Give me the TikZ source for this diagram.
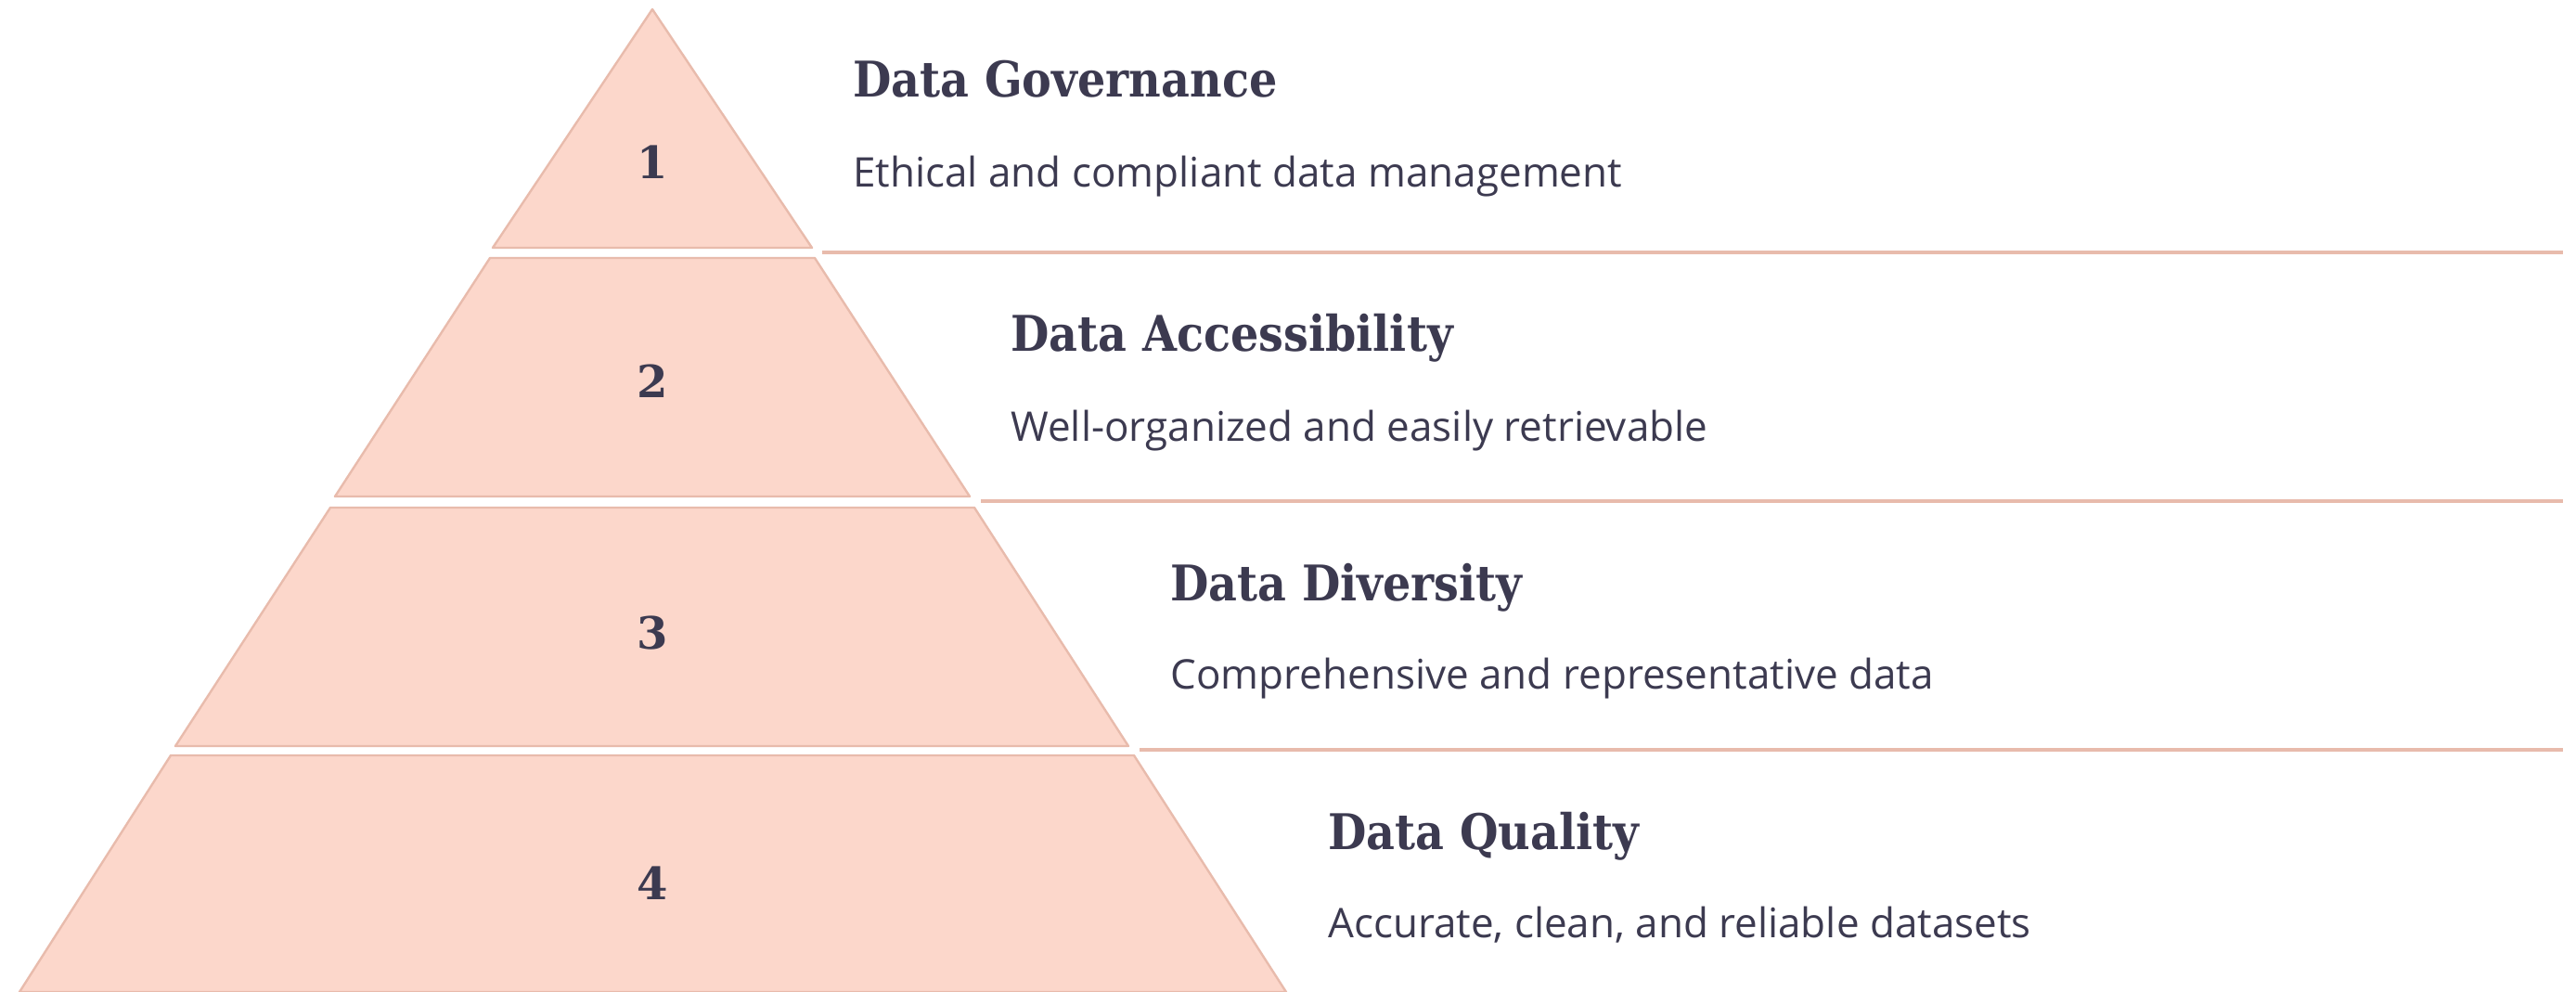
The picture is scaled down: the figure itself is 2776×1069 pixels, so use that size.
\documentclass[tikz,border=0pt]{standalone}
\usepackage{fontspec}
\setmainfont{DejaVu Serif}
\newfontfamily\titlefont{DejaVu Serif Condensed}
\newfontfamily\numfont{DejaVu Serif}
\newfontfamily\descfont{Open Sans}
\definecolor{tierfill}{HTML}{FCD7CB}
\definecolor{tierline}{HTML}{E8BBAC}
\definecolor{ink}{HTML}{3C3A50}
\tikzset{
  tier/.style={fill=tierfill, draw=tierline, line width=1.2pt, line join=round},
  sepline/.style={draw=tierline, line width=1.6pt},
  num/.style={font=\numfont\bfseries\fontsize{24}{28}\selectfont, text=ink, inner sep=0pt},
  title/.style={font=\titlefont\bfseries\fontsize{26.5}{30}\selectfont, text=ink, anchor=base west, inner sep=0pt},
  desc/.style={font=\descfont\fontsize{22}{26}\selectfont, text=ink, anchor=base west, inner sep=0pt},
}
\begin{document}
\begin{tikzpicture}[x=0.5pt,y=-0.5pt]
\useasboundingbox (0,0) rectangle (2776,1069);
% tiers
\draw[tier] (703,10) -- (875,267) -- (531,267) -- cycle;
\draw[tier] (528,278) -- (878,278) -- (1045,535) -- (361,535) -- cycle;
\draw[tier] (356,547) -- (1050,547) -- (1216,804) -- (189,804) -- cycle;
\draw[tier] (184,814) -- (1222,814) -- (1386,1069) -- (21,1069) -- cycle;
% numbers
\node[num] (n1) at (703,175) {1};
\node[num] (n2) at (703,411) {2};
\node[num] (n3) at (703,682) {3};
\node[num] (n4) at (703,952) {4};
% separator lines
\coordinate (l1a) at (886,272); \coordinate (l1b) at (2762,272);
\coordinate (l2a) at (1057,540); \coordinate (l2b) at (2762,540);
\coordinate (l3a) at (1228,808); \coordinate (l3b) at (2762,808);
\draw[sepline] (l1a) -- (l1b);
\draw[sepline] (l2a) -- (l2b);
\draw[sepline] (l3a) -- (l3b);
% texts
\node[title] (t1) at (919,105) {Data Governance};
\node[desc] (d1) at (919,202) {Ethical and compliant data management};
\node[title] (t2) at (1089,379) {Data Accessibility};
\node[desc] (d2) at (1089,475) {Well-organized and easily retrievable};
\node[title] (t3) at (1261,647) {Data Diversity};
\node[desc] (d3) at (1261,742) {Comprehensive and representative data};
\node[title] (t4) at (1431,915) {Data Quality};
\node[desc] (d4) at (1431,1010) {Accurate, clean, and reliable datasets};
\end{tikzpicture}
\end{document}
